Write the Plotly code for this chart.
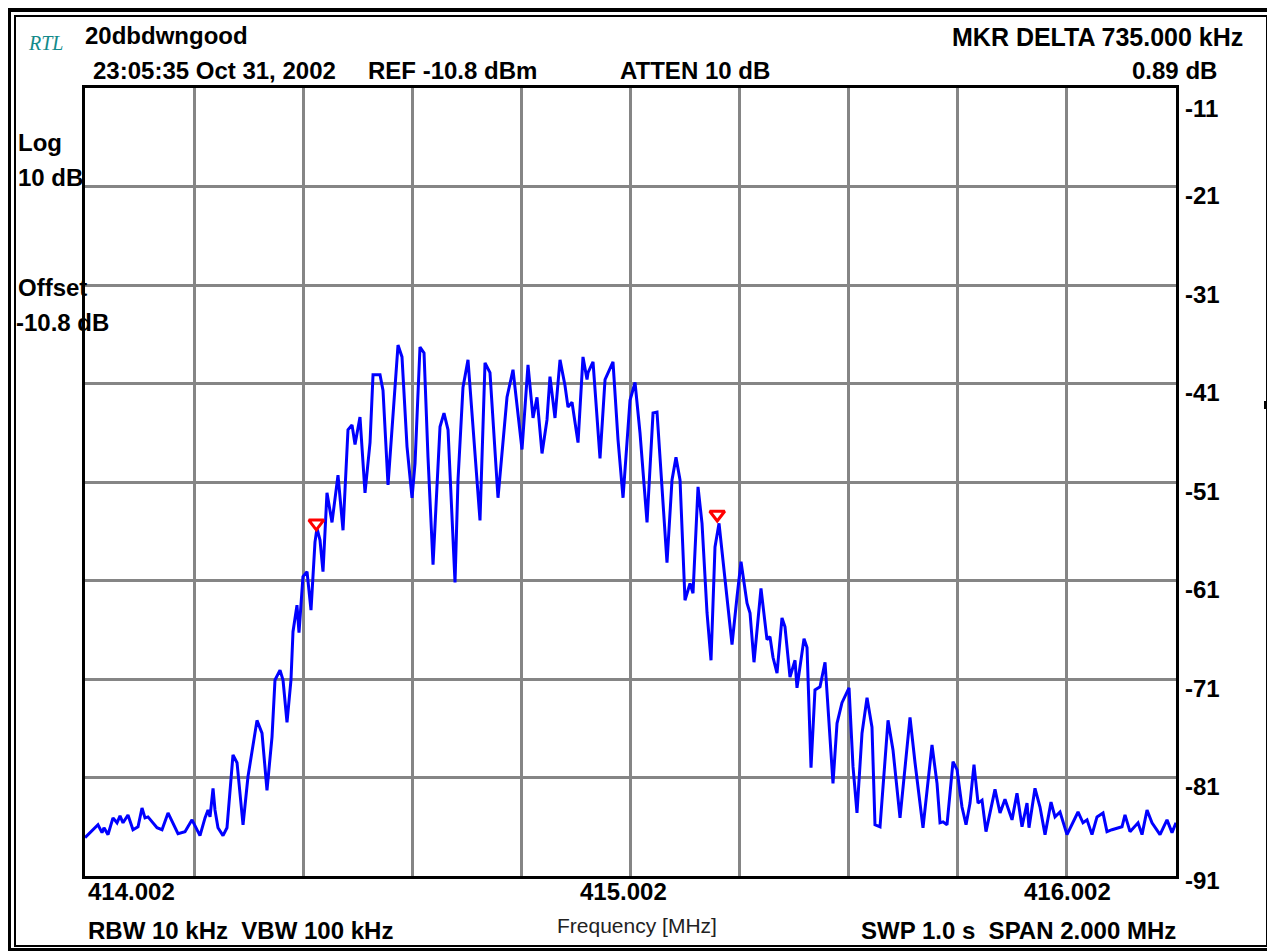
import plotly.graph_objects as go

# ---------------- data ----------------
freq_mhz = [
    414.0020, 414.0167, 414.0258, 414.0332, 414.0368, 414.0442, 414.0533, 414.0607, 414.0662, 414.0717,
    414.0808, 414.0900, 414.0992, 414.1065, 414.1120, 414.1175, 414.1340, 414.1432, 414.1542, 414.1725,
    414.1853, 414.1982, 414.2128, 414.2220, 414.2275, 414.2312, 414.2367, 414.2403, 414.2458, 414.2550,
    414.2623, 414.2733, 414.2807, 414.2917, 414.3008, 414.3173, 414.3265, 414.3356, 414.3448, 414.3503,
    414.3595, 414.3650, 414.3723, 414.3796, 414.3833, 414.3906, 414.3943, 414.4016, 414.4090, 414.4163,
    414.4236, 414.4273, 414.4328, 414.4383, 414.4456, 414.4548, 414.4658, 414.4750, 414.4841, 414.4915,
    414.4970, 414.5061, 414.5153, 414.5245, 414.5300, 414.5428, 414.5483, 414.5575, 414.5666, 414.5758,
    414.5831, 414.5923, 414.6015, 414.6070, 414.6161, 414.6235, 414.6308, 414.6400, 414.6528, 414.6601,
    414.6675, 414.6803, 414.6858, 414.6949, 414.7041, 414.7133, 414.7261, 414.7353, 414.7444, 414.7591,
    414.7756, 414.7866, 414.8031, 414.8141, 414.8233, 414.8306, 414.8398, 414.8489, 414.8544, 414.8636,
    414.8728, 414.8819, 414.8874, 414.8948, 414.9058, 414.9149, 414.9223, 414.9241, 414.9333, 414.9461,
    414.9553, 414.9699, 414.9791, 414.9883, 415.0011, 415.0103, 415.0194, 415.0323, 415.0433, 415.0506,
    415.0598, 415.0689, 415.0781, 415.0854, 415.0928, 415.1019, 415.1111, 415.1166, 415.1258, 415.1331,
    415.1423, 415.1496, 415.1569, 415.1643, 415.1753, 415.1881, 415.1972, 415.2046, 415.2156, 415.2211,
    415.2284, 415.2412, 415.2522, 415.2577, 415.2632, 415.2706, 415.2797, 415.2852, 415.2944, 415.3036,
    415.3072, 415.3201, 415.3256, 415.3292, 415.3329, 415.3402, 415.3494, 415.3586, 415.3641, 415.3732,
    415.3806, 415.3897, 415.4026, 415.4099, 415.4172, 415.4264, 415.4356, 415.4447, 415.4502, 415.4594,
    415.4741, 415.4832, 415.4961, 415.5144, 415.5236, 415.5382, 415.5547, 415.5639, 415.5694, 415.5749,
    415.5822, 415.5932, 415.6006, 415.6097, 415.6171, 415.6244, 415.6317, 415.6391, 415.6464, 415.6537,
    415.6702, 415.6794, 415.6885, 415.7014, 415.7105, 415.7197, 415.7289, 415.7325, 415.7435, 415.7527,
    415.7619, 415.7729, 415.7802, 415.7894, 415.8022, 415.8132, 415.8224, 415.8315, 415.8389, 415.8480,
    415.8572, 415.8682, 415.8755, 415.8847, 415.9030, 415.9085, 415.9177, 415.9324, 415.9397, 415.9489,
    415.9580, 415.9727, 415.9855, 415.9947, 416.0020,
]
level_dbm = [
    -86.9, -86.1, -85.6, -86.4, -85.9, -86.6, -84.9, -85.4, -84.7, -85.4,
    -84.6, -86.1, -85.8, -83.9, -84.9, -84.8, -85.9, -86.1, -84.4, -86.5,
    -86.3, -85.1, -86.7, -84.9, -84.1, -84.8, -81.9, -84.1, -85.9, -86.7,
    -85.9, -78.5, -79.3, -85.6, -80.7, -75.0, -76.3, -82.1, -76.7, -70.9,
    -69.9, -70.9, -75.2, -70.9, -66.0, -63.3, -66.1, -60.4, -59.9, -63.8,
    -56.9, -55.5, -56.7, -59.9, -51.9, -54.9, -50.1, -55.7, -45.5, -45.0,
    -47.0, -44.2, -51.9, -46.8, -39.9, -39.9, -41.5, -51.1, -43.8, -36.9,
    -38.1, -47.2, -52.4, -48.9, -37.1, -37.7, -48.3, -59.2, -45.2, -43.8,
    -45.5, -61.0, -50.6, -41.2, -38.4, -45.5, -54.7, -38.7, -39.7, -52.4,
    -42.2, -39.4, -47.5, -38.9, -44.3, -42.2, -47.9, -44.5, -40.1, -44.3,
    -38.4, -41.0, -43.2, -42.7, -46.8, -38.1, -40.4, -39.7, -38.6, -48.4,
    -40.4, -38.6, -46.5, -52.4, -42.5, -40.7, -45.8, -54.9, -43.8, -43.7,
    -51.3, -59.0, -50.6, -48.3, -50.6, -62.8, -61.1, -62.1, -51.3, -55.0,
    -64.1, -68.9, -57.4, -55.0, -60.7, -67.3, -62.5, -58.9, -63.1, -64.1,
    -69.1, -61.6, -66.8, -66.5, -68.6, -70.2, -64.6, -65.5, -70.6, -68.9,
    -71.7, -66.7, -67.6, -74.0, -79.8, -71.9, -71.6, -69.1, -74.0, -81.4,
    -75.3, -73.2, -71.7, -79.7, -84.4, -76.3, -72.7, -75.7, -85.6, -85.8,
    -75.0, -78.0, -84.9, -74.7, -79.3, -85.9, -77.5, -81.4, -85.4, -85.3,
    -85.6, -79.2, -80.0, -83.8, -85.6, -83.4, -79.5, -83.4, -83.1, -86.3,
    -82.0, -84.4, -83.0, -85.1, -82.4, -85.8, -83.4, -85.9, -81.9, -83.8,
    -86.6, -83.3, -84.8, -84.3, -86.6, -85.3, -84.3, -85.4, -85.1, -86.6,
    -84.8, -84.4, -86.3, -86.1, -85.8, -84.6, -86.3, -85.4, -86.6, -84.1,
    -85.4, -86.6, -85.1, -86.4, -85.4,
]

marker_freq = [414.426, 415.161]
marker_level = [-55.7, -54.8]

x_start, x_stop = 414.002, 416.002
ref_level = -10.8
db_per_div = 10
n_div_y = 8
x_tick_values = [414.002, 415.002, 416.002]
x_tick_labels = ["414.002", "415.002", "416.002"]
y_tick_labels = ["-11", "-21", "-31", "-41", "-51", "-61", "-71", "-81", "-91"]

# ---------------- layout geometry (window pixels) ----------------
PAGE_OFF = 8                      # default body margin of the html page
WIN_W, WIN_H = 1275, 951
W, H = WIN_W - PAGE_OFF, WIN_H - PAGE_OFF
PLOT_X0, PLOT_X1, PLOT_Y0, PLOT_Y1 = 85, 1176, 88, 876   # plot area in window pixels
L = PLOT_X0 - PAGE_OFF
T = PLOT_Y0 - PAGE_OFF
R = W - (PLOT_X1 - PAGE_OFF)
B = H - (PLOT_Y1 - PAGE_OFF)
PW, PH = PLOT_X1 - PLOT_X0, PLOT_Y1 - PLOT_Y0


def px(x):
    return (x - PLOT_X0) / PW


def py(y):
    return (PLOT_Y1 - y) / PH


FONT = "Liberation Sans, Arial, sans-serif"

fig = go.Figure()
fig.add_trace(go.Scatter(
    x=freq_mhz, y=level_dbm, mode="lines",
    line=dict(color="#0000ff", width=3),
    hoverinfo="skip", showlegend=False,
))
fig.add_trace(go.Scatter(
    x=marker_freq, y=[v + 0.7 for v in marker_level], mode="markers",
    marker=dict(symbol="triangle-down-open", size=13, color="#ff0000",
                line=dict(color="#ff0000", width=3)),
    hoverinfo="skip", showlegend=False,
))

annotations = []


def ann(text, x, y, xanchor="left", size=24, bold=True, color="#000000", family=FONT):
    annotations.append(dict(
        text=(f"<b>{text}</b>" if bold else text),
        x=x, y=y, xref="paper", yref="paper", xanchor=xanchor, yanchor="middle",
        showarrow=False,
        font=dict(family=family, size=size, color=color),
    ))


ann("<i>RTL</i>", px(26), py(43), size=20, bold=False, color="#138a8a",
    family="Liberation Serif, Times New Roman, serif")
ann("20dbdwngood", px(83), py(36))
ann("23:05:35 Oct 31, 2002", px(91), py(70))
ann("REF -10.8 dBm", px(366), py(70))
ann("ATTEN 10 dB", px(618), py(70))
ann("MKR DELTA 735.000 kHz", px(1245), py(37), xanchor="right", size=25)
ann("0.89 dB", px(1219), py(70), xanchor="right")
ann("Log", px(16), py(143))
ann("10 dB", px(16), py(177))
ann("Offset", px(16), py(287))
ann("-10.8 dB", px(14), py(322))

# x tick labels
x_label_px = [(86, "left"), (623, "center"), (1113, "right")]
for val, lab, (xpix, anc) in zip(x_tick_values, x_tick_labels, x_label_px):
    ann(lab, px(xpix), py(891), xanchor=anc)

# right y tick labels (one per division line)
for i, lab in enumerate(y_tick_labels):
    yv = ref_level - i * db_per_div
    shift = -20 if i == 0 else (-4 if i == len(y_tick_labels) - 1 else -9)
    annotations.append(dict(
        text=f"<b>{lab}</b>", x=px(1183), y=yv, xref="paper", yref="y",
        xanchor="left", yanchor="middle", yshift=shift, showarrow=False,
        font=dict(family=FONT, size=24, color="#000000"),
    ))

ann("RBW 10 kHz&nbsp; VBW 100 kHz", px(86), py(930))
ann("Frequency [MHz]", px(555), py(925), size=21, bold=False, color="#222222")
ann("SWP 1.0 s&nbsp; SPAN 2.000 MHz", px(1178), py(930), xanchor="right")

shapes = []
# outer thick frame
for (x0, y0, x1, y1) in [(4, 5, 11, 951), (4, 5, 1275, 12), (1270, 5, 1275, 951), (4, 948, 1275, 951)]:
    shapes.append(dict(type="rect", xref="paper", yref="paper",
                       x0=px(x0), x1=px(x1), y0=py(y0), y1=py(y1),
                       fillcolor="#000000", line=dict(width=0), layer="above"))
# inner thin frame
shapes.append(dict(type="rect", xref="paper", yref="paper",
                   x0=px(15), x1=px(1267), y0=py(16), y1=py(946),
                   fillcolor="rgba(0,0,0,0)", line=dict(color="#000000", width=2), layer="above"))
# small tick mark on the right edge
shapes.append(dict(type="rect", xref="paper", yref="paper",
                   x0=px(1264), x1=px(1267), y0=py(409), y1=py(401),
                   fillcolor="#000000", line=dict(width=0), layer="above"))

fig.update_layout(
    width=W, height=H,
    margin=dict(l=L, r=R, t=T, b=B, pad=0),
    paper_bgcolor="#ffffff", plot_bgcolor="#ffffff",
    annotations=annotations, shapes=shapes,
    showlegend=False,
    xaxis=dict(range=[x_start, x_stop], tick0=x_start, dtick=0.2, showticklabels=False,
               showgrid=True, gridcolor="#858585", gridwidth=2.5, zeroline=False,
               showline=True, linecolor="#000000", linewidth=3, mirror=True, ticks=""),
    yaxis=dict(range=[ref_level - n_div_y * db_per_div, ref_level], tick0=ref_level, dtick=db_per_div,
               showticklabels=False, showgrid=True, gridcolor="#858585", gridwidth=2.5,
               zeroline=False, showline=True, linecolor="#000000", linewidth=3, mirror=True, ticks=""),
)

fig.write_html("out.html")
